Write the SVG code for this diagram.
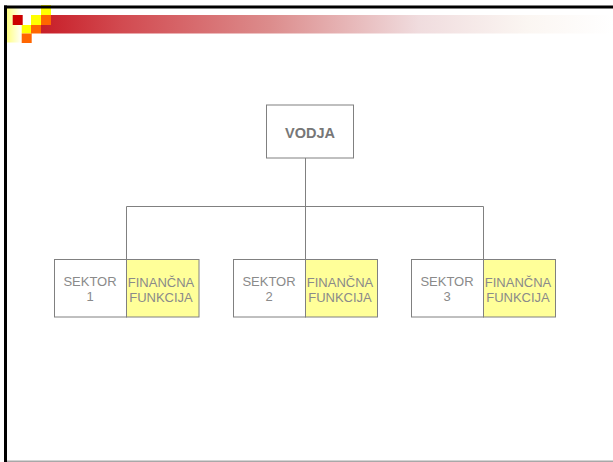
<svg xmlns="http://www.w3.org/2000/svg" width="613" height="462" viewBox="0 0 613 462">
<defs>
<style>
.box{fill:#ffffff;stroke:#808080;stroke-width:1}
.fin{fill:#ffff99;stroke:#808080;stroke-width:1}
.t{font-family:"Liberation Sans",Arial,sans-serif;font-size:13px;fill:#8a8a8a;text-anchor:middle}
.tb{font-family:"Liberation Sans",Arial,sans-serif;font-size:14.5px;font-weight:bold;fill:#777777;text-anchor:middle}
.conn{fill:none;stroke:#808080;stroke-width:1}
</style>
<linearGradient id="bar" x1="41" y1="0" x2="613" y2="0" gradientUnits="userSpaceOnUse">
<stop offset="0" stop-color="#c81e28"/>
<stop offset="0.14" stop-color="#d24a50"/>
<stop offset="0.4" stop-color="#dc8c8c"/>
<stop offset="0.66" stop-color="#f0dcde"/>
<stop offset="0.85" stop-color="#fbf6f2"/>
<stop offset="1" stop-color="#ffffff"/>
</linearGradient>
<linearGradient id="yel" x1="0" y1="0" x2="1" y2="0">
<stop offset="0" stop-color="#ffff70"/>
<stop offset="1" stop-color="#ffffff"/>
</linearGradient>
</defs>
<rect width="613" height="462" fill="#ffffff"/>
<g id="header">
<rect x="5" y="8" width="17" height="34.5" fill="url(#yel)"/>
<rect x="41" y="15" width="572" height="18.5" fill="url(#bar)"/>
<rect x="12.7" y="15" width="10" height="10" fill="#cc0000"/>
<rect x="31" y="15" width="10" height="10" fill="#ffff00"/>
<rect x="41" y="15" width="10" height="10" fill="#ff6600"/>
<rect x="41" y="5" width="10" height="10" fill="#ffff00"/>
<rect x="21.7" y="25" width="10" height="8.5" fill="#ffff00"/>
<rect x="31" y="25" width="10" height="8.5" fill="#ff6600"/>
<rect x="21.7" y="33.5" width="10" height="9.5" fill="#ff6600"/>
<rect x="4" y="5.5" width="609" height="3" fill="#000000"/>
<rect x="4" y="5.5" width="3" height="456.5" fill="#000000"/>
<rect x="7" y="460.5" width="606" height="1.5" fill="#a8a8a8"/>
</g>
<g id="connectors">
<path class="conn" d="M305.5,158 V259"/>
<path class="conn" d="M126.5,206.5 H483.5"/>
<path class="conn" d="M126.5,206.5 V259"/>
<path class="conn" d="M483.5,206.5 V259"/>
</g>
<g id="vodja">
<rect class="box" x="266.5" y="105" width="87" height="53"/>
<text class="tb" x="310" y="138">VODJA</text>
</g>
<g id="sektor1">
<rect class="box" x="54.5" y="259.5" width="72" height="57.5"/>
<text class="t" x="90" y="286">SEKTOR</text>
<text class="t" x="90" y="301">1</text>
</g>
<g id="fin1">
<rect class="fin" x="126.5" y="259.5" width="72.5" height="57.5"/>
<text class="t" x="161" y="286.5">FINANČNA</text>
<text class="t" x="161" y="301.5">FUNKCIJA</text>
</g>
<g id="sektor2">
<rect class="box" x="233.5" y="259.5" width="72" height="57.5"/>
<text class="t" x="269" y="286">SEKTOR</text>
<text class="t" x="269" y="301">2</text>
</g>
<g id="fin2">
<rect class="fin" x="305.5" y="259.5" width="72" height="57.5"/>
<text class="t" x="340" y="286.5">FINANČNA</text>
<text class="t" x="340" y="301.5">FUNKCIJA</text>
</g>
<g id="sektor3">
<rect class="box" x="411.5" y="259.5" width="72" height="57.5"/>
<text class="t" x="447" y="286">SEKTOR</text>
<text class="t" x="447" y="301">3</text>
</g>
<g id="fin3">
<rect class="fin" x="483.5" y="259.5" width="72" height="57.5"/>
<text class="t" x="518" y="286.5">FINANČNA</text>
<text class="t" x="518" y="301.5">FUNKCIJA</text>
</g>
</svg>
